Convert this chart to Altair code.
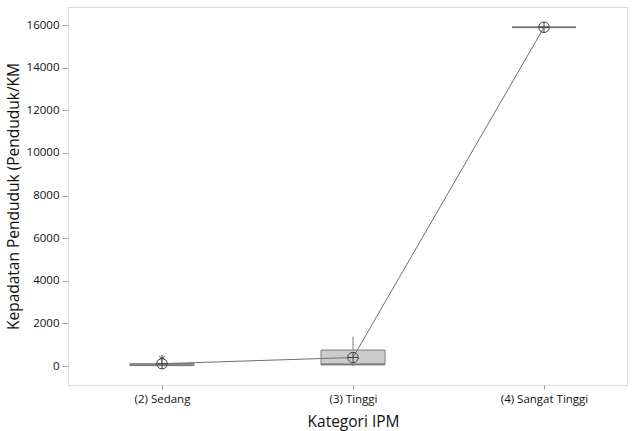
import altair as alt
import pandas as pd

categories = ["(2) Sedang", "(3) Tinggi", "(4) Sangat Tinggi"]
whisker_low = [0, 0, 15900]
q1 = [20, 60, 15900]
median = [60, 80, 15900]
q3 = [110, 750, 15900]
whisker_high = [200, 1380, 15900]
means = [110, 400, 15900]
outlier_cat = ["(2) Sedang"]
outlier_val = [380]

df = pd.DataFrame({
    "cat": categories, "lo": whisker_low, "q1": q1, "med": median,
    "q3": q3, "hi": whisker_high, "mean": means,
})
out = pd.DataFrame({"cat": outlier_cat, "val": outlier_val})

font = "Open Sans"
xs = alt.Scale(type="point", domain=categories, range=[94, 476], padding=0)
ys = alt.Scale(domain=[-890, 16850], nice=False, zero=False)

x = alt.X("cat:N", scale=xs, sort=categories,
          axis=alt.Axis(title="Kategori IPM", labelAngle=0, domain=False,
                        tickColor="#a0a0a0", tickSize=4, labelPadding=4,
                        labelFontSize=11.5, titleFontSize=15.5, titlePadding=10,
                        labelColor="#111", titleColor="#111",
                        labelFont=font, titleFont=font, titleFontWeight="normal"))
y_axis = alt.Axis(title="Kepadatan Penduduk (Penduduk/KM", values=list(range(0, 16001, 2000)),
                  format="d",
                  grid=False, domain=False, tickColor="#a0a0a0", tickSize=6,
                  labelFontSize=11.5, titleFontSize=15.5, titlePadding=5,
                  labelColor="#111", titleColor="#111", labelPadding=3,
                  labelFont=font, titleFont=font, titleFontWeight="normal")

base = alt.Chart(df)

whisk = base.mark_rule(color="#808080", strokeWidth=1).encode(
    x=x, y=alt.Y("lo:Q", scale=ys, axis=y_axis), y2="hi:Q")
box = base.mark_bar(size=64, fill="#cccccc", stroke="#7f7f7f", strokeWidth=1).encode(
    x=x, y=alt.Y("q1:Q", scale=ys), y2="q3:Q")
med = base.mark_tick(size=64, thickness=2, color="#6f6f6f").encode(
    x=x, y=alt.Y("med:Q", scale=ys))
line = base.mark_line(color="#707070", strokeWidth=1).encode(
    x=x, y=alt.Y("mean:Q", scale=ys))
circ_path = "M -1 0 A 1 1 0 1 0 1 0 A 1 1 0 1 0 -1 0 M -1 0 L 1 0 M 0 -1 L 0 1"
mean_pt = base.mark_point(shape=circ_path, size=110, filled=False, color="#404040",
                          strokeWidth=1, opacity=1).encode(
    x=x, y=alt.Y("mean:Q", scale=ys))
star_path = "M 0 -1 L 0 1 M -0.87 -0.5 L 0.87 0.5 M -0.87 0.5 L 0.87 -0.5"
outl = alt.Chart(out).mark_point(shape=star_path, size=40, filled=False, color="#505050",
                                 strokeWidth=1, opacity=1).encode(
    x=x, y=alt.Y("val:Q", scale=ys))

chart = alt.layer(whisk, box, med, line, outl, mean_pt).properties(
    width=559, height=378,
    padding={"left": 68, "top": 7, "right": 5, "bottom": 46},
    autosize=alt.AutoSizeParams(type="none"),
).configure_view(stroke="#a0a0a0", strokeWidth=1).configure(background="white")

chart.save("out.html", embed_options={"renderer": "svg", "actions": False})
